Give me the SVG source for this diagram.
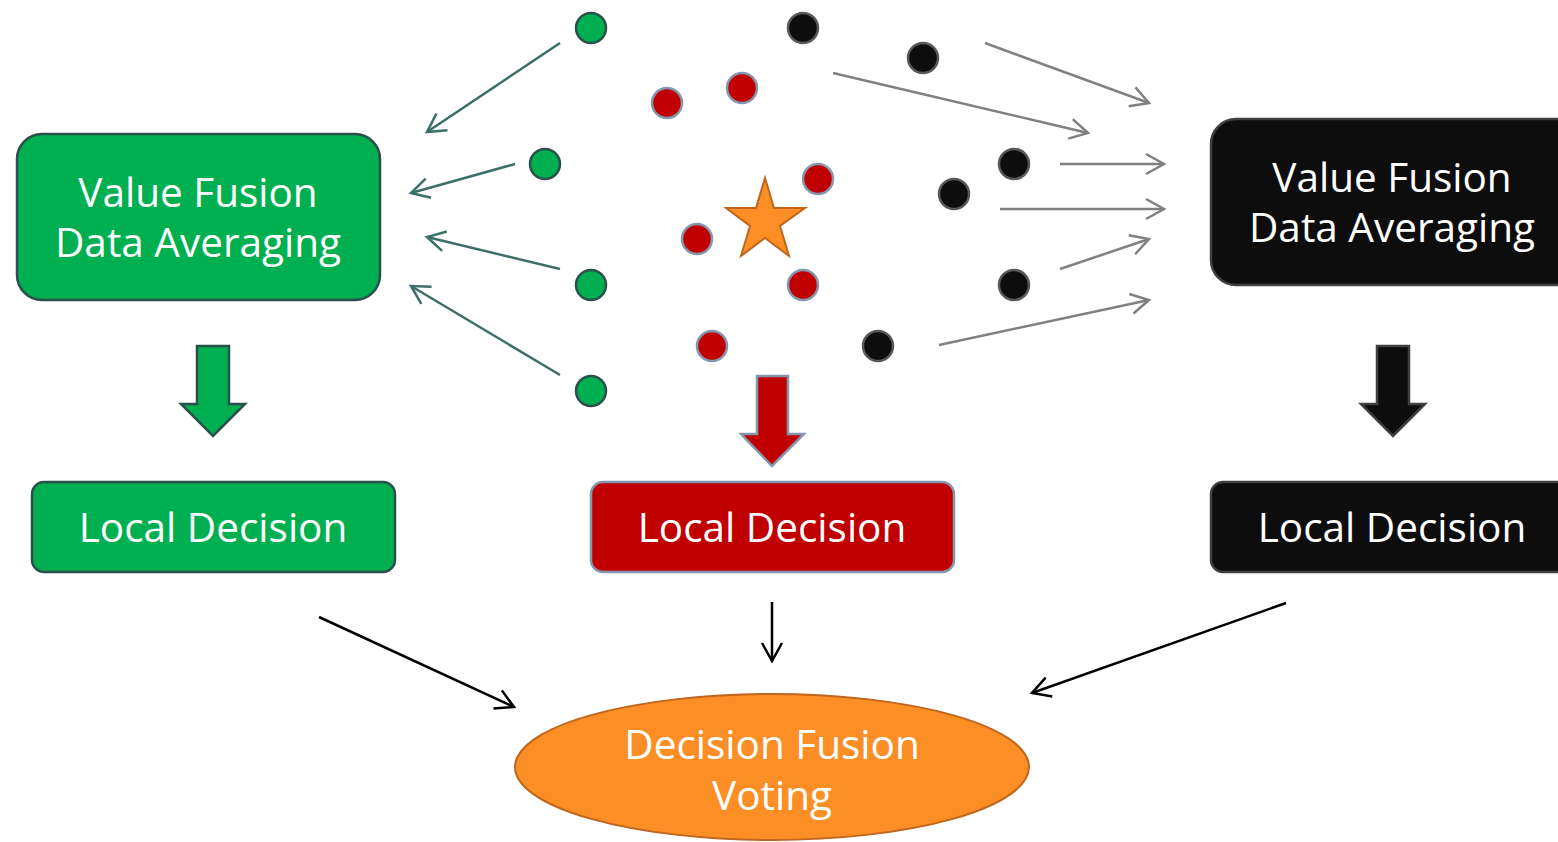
<svg xmlns="http://www.w3.org/2000/svg" width="1558" height="842" viewBox="0 0 1558 842">
<defs>
<style>
.t{font-family:"Open Sans","Noto Sans","DejaVu Sans",sans-serif;fill:#fff;text-anchor:middle;font-size:40.5px}
.gd{fill:#00B050;stroke:#2A4F4C;stroke-width:2.5}
.rd{fill:#C00000;stroke:#8497B0;stroke-width:2.5}
.bd{fill:#0D0D0D;stroke:#595959;stroke-width:2.5}
.ga{stroke:#3E6E6A;stroke-width:2.5;fill:none}
.ya{stroke:#808080;stroke-width:2.5;fill:none}
.ka{stroke:#000;stroke-width:2.5;fill:none}
</style>
<marker id="mg" markerUnits="userSpaceOnUse" markerWidth="26" markerHeight="26" refX="20" refY="11" orient="auto" viewBox="0 0 26 22"><path d="M2,1 L20,11 L2,21" fill="none" stroke="#3E6E6A" stroke-width="2.5"/></marker>
<marker id="my" markerUnits="userSpaceOnUse" markerWidth="26" markerHeight="26" refX="20" refY="11" orient="auto" viewBox="0 0 26 22"><path d="M2,1 L20,11 L2,21" fill="none" stroke="#808080" stroke-width="2.5"/></marker>
<marker id="mk" markerUnits="userSpaceOnUse" markerWidth="26" markerHeight="26" refX="20" refY="11" orient="auto" viewBox="0 0 26 22"><path d="M2,1 L20,11 L2,21" fill="none" stroke="#000" stroke-width="2.5"/></marker>
</defs>
<rect width="1558" height="842" fill="#fff"/>
<g id="connectors">
<line class="ga" x1="560" y1="43" x2="427" y2="132" marker-end="url(#mg)"/>
<line class="ga" x1="515" y1="164" x2="411" y2="193" marker-end="url(#mg)"/>
<line class="ga" x1="560" y1="269" x2="427" y2="237" marker-end="url(#mg)"/>
<line class="ga" x1="560" y1="375" x2="411" y2="286" marker-end="url(#mg)"/>
<line class="ya" x1="985" y1="43" x2="1149" y2="103" marker-end="url(#my)"/>
<line class="ya" x1="833" y1="73" x2="1088" y2="133" marker-end="url(#my)"/>
<line class="ya" x1="1060" y1="164" x2="1164" y2="164" marker-end="url(#my)"/>
<line class="ya" x1="1000" y1="209" x2="1164" y2="209" marker-end="url(#my)"/>
<line class="ya" x1="1060" y1="269" x2="1149" y2="239" marker-end="url(#my)"/>
<line class="ya" x1="939" y1="345" x2="1149" y2="300" marker-end="url(#my)"/>
<line class="ka" x1="319" y1="617" x2="514" y2="707" marker-end="url(#mk)"/>
<line class="ka" x1="772" y1="602" x2="772" y2="661" marker-end="url(#mk)"/>
<line class="ka" x1="1286" y1="603" x2="1032" y2="693" marker-end="url(#mk)"/>
</g>
<g id="dots">
<circle class="gd" cx="591" cy="28" r="15"/>
<circle class="gd" cx="545" cy="164" r="15"/>
<circle class="gd" cx="591" cy="285" r="15"/>
<circle class="gd" cx="591" cy="391" r="15"/>
<circle class="rd" cx="667" cy="103" r="15"/>
<circle class="rd" cx="742" cy="88" r="15"/>
<circle class="rd" cx="818" cy="179" r="15"/>
<circle class="rd" cx="697" cy="239" r="15"/>
<circle class="rd" cx="803" cy="285" r="15"/>
<circle class="rd" cx="712" cy="346" r="15"/>
<circle class="bd" cx="803" cy="28" r="15"/>
<circle class="bd" cx="923" cy="58" r="15"/>
<circle class="bd" cx="1014" cy="164" r="15"/>
<circle class="bd" cx="954" cy="194" r="15"/>
<circle class="bd" cx="1014" cy="285" r="15"/>
<circle class="bd" cx="878" cy="346" r="15"/>
</g>
<g id="star">
<polygon points="765,178 774,208 805,208 780,226 789,256 765,238 741,256 750,226 726,208 756,208" fill="#FB8F26" stroke="#C0651B" stroke-width="2"/>
</g>
<g id="green-value">
<rect x="17" y="134" width="363" height="166" rx="25" fill="#00B050" stroke="#2A4F4C" stroke-width="2.5"/>
<text class="t" x="198" y="207">Value Fusion</text>
<text class="t" x="198" y="257">Data Averaging</text>
</g>
<g id="black-value">
<rect x="1211" y="119" width="370" height="166" rx="25" fill="#0D0D0D" stroke="#404040" stroke-width="2.5"/>
<text class="t" x="1392" y="192">Value Fusion</text>
<text class="t" x="1392" y="242">Data Averaging</text>
</g>
<g id="green-down">
<polygon points="197,346 229,346 229,404 245,404 213,436 181,404 197,404" fill="#00B050" stroke="#2A4F4C" stroke-width="2.5"/>
</g>
<g id="red-down">
<polygon points="757,376 788,376 788,434 804,434 772,466 741,434 757,434" fill="#C00000" stroke="#8497B0" stroke-width="2.5"/>
</g>
<g id="black-down">
<polygon points="1377,346 1409,346 1409,404 1425,404 1393,436 1361,404 1377,404" fill="#0D0D0D" stroke="#404040" stroke-width="2.5"/>
</g>
<g id="green-local">
<rect x="32" y="482" width="363" height="90" rx="12" fill="#00B050" stroke="#2A4F4C" stroke-width="2.5"/>
<text class="t" x="213" y="542">Local Decision</text>
</g>
<g id="red-local">
<rect x="591" y="482" width="363" height="90" rx="12" fill="#C00000" stroke="#8497B0" stroke-width="2.5"/>
<text class="t" x="772" y="542">Local Decision</text>
</g>
<g id="black-local">
<rect x="1211" y="482" width="370" height="90" rx="12" fill="#0D0D0D" stroke="#404040" stroke-width="2.5"/>
<text class="t" x="1392" y="542">Local Decision</text>
</g>
<g id="decision-fusion">
<ellipse cx="772" cy="767" rx="257" ry="73" fill="#FB8F26" stroke="#C0651B" stroke-width="2"/>
<text class="t" x="772" y="759">Decision Fusion</text>
<text class="t" x="772" y="810">Voting</text>
</g>
</svg>
